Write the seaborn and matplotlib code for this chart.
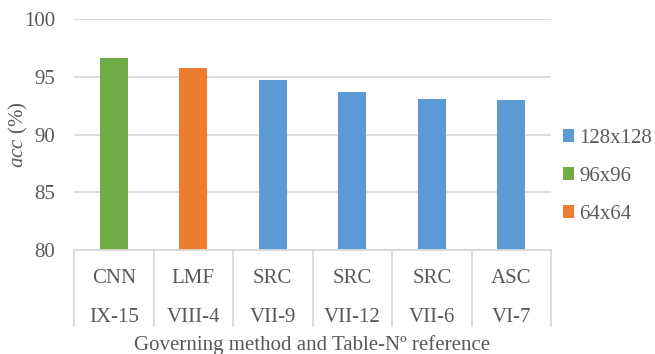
import pandas as pd
import matplotlib
matplotlib.use("Agg")
import matplotlib.pyplot as plt
import matplotlib.transforms as mtransforms
import seaborn as sns

# Data
methods = ["CNN", "LMF", "SRC", "SRC", "SRC", "ASC"]
tables = ["IX-15", "VIII-4", "VII-9", "VII-12", "VII-6", "VI-7"]
resolutions = ["96x96", "64x64", "128x128", "128x128", "128x128", "128x128"]
accuracy = [96.6, 95.8, 94.75, 93.7, 93.1, 92.95]
legend_order = ["128x128", "96x96", "64x64"]
y_ticks = [80, 85, 90, 95, 100]

colors = {"128x128": "#5B9BD5", "96x96": "#70AD47", "64x64": "#ED7D31"}
text_color = "#595959"
grid_color = "#D9D9D9"
fs = 15
serif = ["Liberation Serif", "DejaVu Serif"]

df = pd.DataFrame({"pos": list(range(len(methods))), "acc": accuracy, "res": resolutions})

sns.set_theme(style="white")
plt.rcParams["font.family"] = serif
plt.rcParams["mathtext.fontset"] = "custom"
plt.rcParams["mathtext.it"] = "Liberation Serif:italic"
plt.rcParams["mathtext.rm"] = "Liberation Serif"

W, H = 655, 354
fig = plt.figure(figsize=(W / 100, H / 100), dpi=100)
ax = fig.add_axes([74 / W, 1 - 250 / H, 477 / W, 231 / H])

sns.barplot(data=df, x="pos", y="acc", hue="res", hue_order=legend_order,
            palette=colors, saturation=1, dodge=False, width=0.35, linewidth=0, ax=ax)

handles, labels = ax.get_legend_handles_labels()
if ax.legend_ is not None:
    ax.legend_.remove()

ax.set_xlim(-0.5, len(methods) - 0.5)
ax.set_ylim(80, 100)
ax.set_yticks(y_ticks, labels=[str(v) for v in y_ticks])
ax.grid(axis="y", color=grid_color, linewidth=1.3)
ax.grid(axis="x", visible=False)
ax.set_axisbelow(True)
for side in ("left", "right", "top"):
    ax.spines[side].set_visible(False)
ax.spines["bottom"].set_color(grid_color)
ax.spines["bottom"].set_linewidth(1.3)
ax.tick_params(axis="y", length=0, pad=13.5, labelsize=fs, labelcolor=text_color)
for lbl in ax.get_yticklabels():
    lbl.set_fontfamily(serif)
ax.set_xticks([])
ax.set_xlabel("")
ax.set_ylabel("")

# Two-level category axis
trans = mtransforms.blended_transform_factory(ax.transData, ax.transAxes)
for i, (m, t) in enumerate(zip(methods, tables)):
    ax.text(i, (250 - 283) / 231, m, transform=trans, ha="center", va="baseline",
            fontsize=fs, color=text_color)
    ax.text(i, (250 - 322) / 231, t, transform=trans, ha="center", va="baseline",
            fontsize=fs, color=text_color)
for xb in [i - 0.5 for i in range(len(methods) + 1)]:
    ax.plot([xb, xb], [0, (250 - 326) / 231], transform=trans, color=grid_color,
            linewidth=1.3, clip_on=False)

fig.text(312.5 / W, 1 - 350 / H, "Governing method and Table-Nº reference",
         ha="center", va="baseline", fontsize=fs, color=text_color)
fig.text(18 / W, 1 - 134.5 / H, r"$\mathit{acc}$ (%)", rotation=90,
         ha="center", va="center", fontsize=fs, color=text_color)

fig.legend(handles, labels, loc="upper left", bbox_to_anchor=(563 / W, 1 - 129 / H),
           frameon=False, borderpad=0, borderaxespad=0, fontsize=fs,
           handlelength=0.53, handleheight=0.53, handletextpad=0.25,
           labelspacing=0.91, labelcolor=text_color)

fig.savefig("out.png", dpi=100)
